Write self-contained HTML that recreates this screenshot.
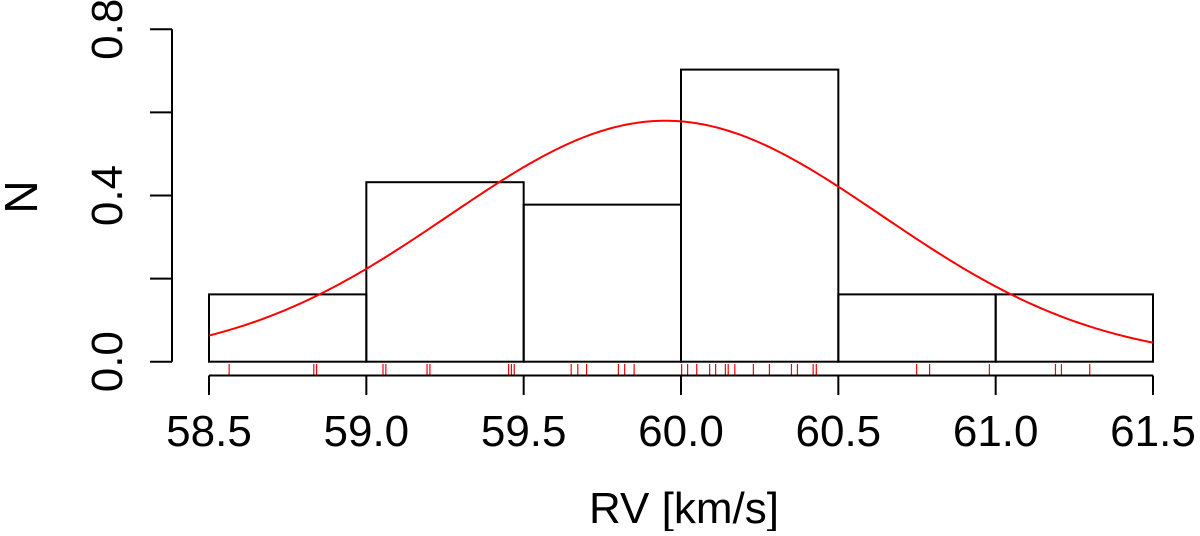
<!DOCTYPE html>
<html><head><meta charset="utf-8"><style>
body{margin:0;background:#fff}
svg text{font-family:"Liberation Sans",Arial,sans-serif;fill:#000}
</style></head><body>
<svg width="1200" height="531" xmlns="http://www.w3.org/2000/svg">
<g id="bars"></g>
<g id="rug"></g>
<path id="curve" fill="none" stroke="#ff0000" stroke-width="2"/>
<g id="xaxis"></g>
<g id="yaxis"></g>
<text x="684" y="523" font-size="44" text-anchor="middle">RV [km/s]</text>
<text transform="translate(37,197) rotate(-90)" font-size="46" text-anchor="middle">N</text>
</svg>
<script>
const binEdges=[58.5,59.0,59.5,60.0,60.5,61.0,61.5];
const binDensity=[0.162,0.432,0.378,0.703,0.162,0.162];
const rugValues=[58.564,58.833,58.842,59.053,59.062,59.193,59.202,59.452,59.461,59.470,59.651,59.672,59.700,59.801,59.821,59.851,60.002,60.021,60.050,60.091,60.110,60.141,60.150,60.171,60.230,60.281,60.351,60.370,60.420,60.430,60.749,60.790,60.980,61.190,61.209,61.299];
const fitMean=59.95;
const fitSd=0.688;
const xTicks=[58.5,59.0,59.5,60.0,60.5,61.0,61.5];
const xTickLabels=["58.5","59.0","59.5","60.0","60.5","61.0","61.5"];
const yTicks=[0,0.2,0.4,0.6,0.8];
const yTickLabels=["0.0","","0.4","","0.8"];

const NS="http://www.w3.org/2000/svg";
const X=v=>209+(v-58.5)*(1153-209)/3;
const Y=v=>361.7-v*(361.7-29.3)/0.8;
function mk(tag,attrs,parent){const e=document.createElementNS(NS,tag);for(const k in attrs)e.setAttribute(k,attrs[k]);parent.appendChild(e);return e;}
const bars=document.getElementById('bars');
binDensity.forEach((d,i)=>{
  const r=mk('rect',{x:X(binEdges[i]),y:Y(d),width:X(binEdges[i+1])-X(binEdges[i]),height:Y(0)-Y(d),fill:'none',stroke:'#000','stroke-width':2},bars);
  
  
});
const rug=document.getElementById('rug');
rugValues.forEach(v=>{
  const l=mk('line',{x1:X(v),x2:X(v),y1:364,y2:375,stroke:'#ff0000','stroke-width':1.2},rug);
  
  
});
let d='';
for(let i=0;i<=300;i++){const v=58.5+3*i/300;const dens=Math.exp(-((v-fitMean)**2)/(2*fitSd*fitSd))/(fitSd*Math.sqrt(2*Math.PI));d+=(i?'L':'M')+X(v).toFixed(2)+','+Y(dens).toFixed(2);}
document.getElementById('curve').setAttribute('d',d);
const xa=document.getElementById('xaxis');
mk('line',{x1:X(xTicks[0]),x2:X(xTicks[xTicks.length-1]),y1:375.5,y2:375.5,stroke:'#000','stroke-width':2},xa);
xTicks.forEach((t,i)=>{
  const l=mk('line',{x1:X(t),x2:X(t),y1:375.5,y2:395,stroke:'#000','stroke-width':2},xa);
  
  
  const tx=mk('text',{x:X(t),y:446,'font-size':44,'text-anchor':'middle'},xa);
  tx.textContent=xTickLabels[i];
  
  
});
const ya=document.getElementById('yaxis');
mk('line',{x1:172,x2:172,y1:Y(0),y2:Y(0.8),stroke:'#000','stroke-width':2},ya);
yTicks.forEach((t,i)=>{
  const l=mk('line',{x1:150,x2:172,y1:Y(t),y2:Y(t),stroke:'#000','stroke-width':2},ya);
  
  
  if(yTickLabels[i]){
    const tx=mk('text',{transform:`translate(122,${Y(t)}) rotate(-90)`,'font-size':44,'text-anchor':'middle'},ya);
    tx.textContent=yTickLabels[i];
    
    
  }
});
</script>
</body></html>
